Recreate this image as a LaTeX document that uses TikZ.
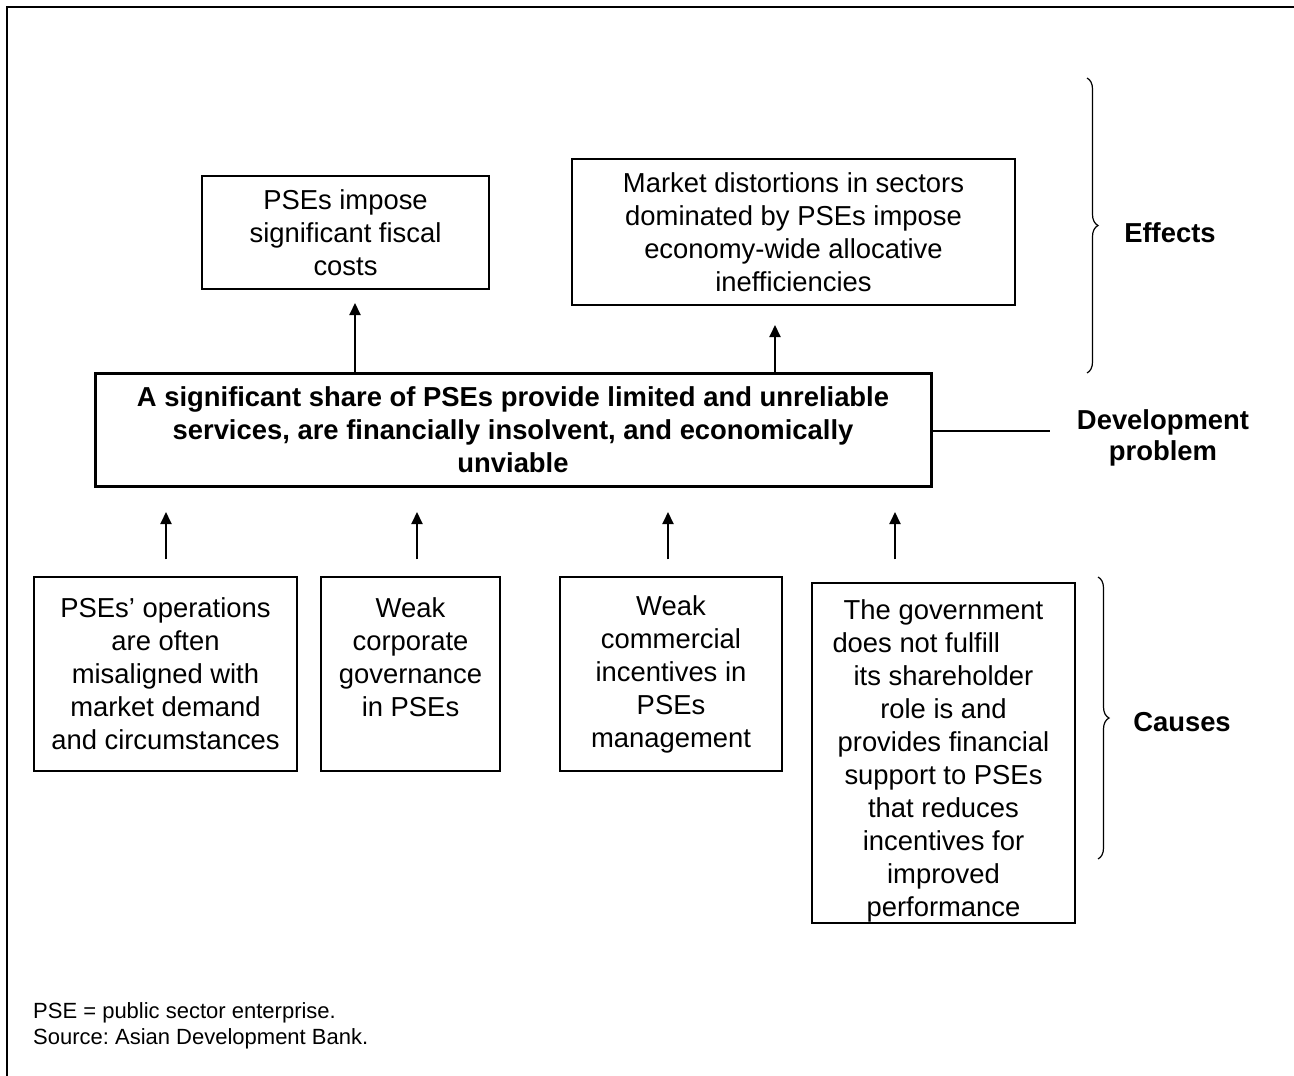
\documentclass[tikz,border=0pt]{standalone}
\usepackage{fontspec}
\setmainfont{Liberation Sans}
\frenchspacing
\usetikzlibrary{arrows.meta,decorations.pathreplacing}
\tikzset{txt/.style={font=\fontsize{27.4}{33}\selectfont},
pbox/.style={txt, draw, line width=1.3pt, align=center, inner sep=0pt},
mainbox/.style={pbox, line width=3pt, font=\fontsize{27.4}{33}\selectfont\bfseries},
uparrow/.style={line width=2pt, -{Triangle[length=12pt,width=11pt]}},
brc/.style={decorate, decoration={brace, amplitude=11pt}, line width=1.2pt},
tag/.style={font=\fontsize{27.4}{31}\selectfont\bfseries, align=center}}

\begin{document}
\begin{tikzpicture}[x=1pt,y=-1pt]
        \useasboundingbox (0,0) rectangle (1294,1076);
        \draw[line width=2.5pt] (7,1090) -- (7,7) -- (1310,7);
        % effects
        \node[pbox, minimum width=287, minimum height=113] (e1) at (345.5,232.5) {PSEs impose\\significant fiscal\\costs};
        \node[pbox, minimum width=443, minimum height=146] (e2) at (793.5,232) {Market distortions in sectors\\dominated by PSEs impose\\economy-wide allocative\\inefficiencies};
        % development problem
        \node[mainbox, minimum width=836, minimum height=113] (main) at (513,429.5) {A significant share of PSEs provide limited and unreliable\\services, are financially insolvent, and economically\\unviable};
        % causes
        \node[pbox, minimum width=263, minimum height=194] (c1) at (165.5,674) {PSEs' operations\\are often\\misaligned with\\market demand\\and circumstances};
        \node[pbox, minimum width=179, minimum height=194] (c2) at (410.5,674) {Weak\\corporate\\governance\\in PSEs\\\mbox{}};
        \node[pbox, minimum width=222, minimum height=194] (c3) at (671,674) {Weak\\commercial\\incentives in\\PSEs\\management};
        \node[pbox, minimum width=263, minimum height=340, text height=332pt] (c4) at (943.5,753) {The government\\\makebox[222pt][l]{does not fulfill}\\its shareholder\\role is and\\provides financial\\support to PSEs\\that reduces\\incentives for\\improved\\performance};

        \coordinate (t1) at (355,303);
        \coordinate (t2) at (775,325);
        \draw[uparrow] (t1 |- main.north) -- (t1);
        \draw[uparrow] (t2 |- main.north) -- (t2);

        \coordinate (b1) at (166,512);
        \coordinate (b2) at (417,512);
        \coordinate (b3) at (668,512);
        \coordinate (b4) at (895,512);
        \draw[uparrow, shorten <=17pt] (c1.north -| b1) -- (b1);
        \draw[uparrow, shorten <=17pt] (c2.north -| b2) -- (b2);
        \draw[uparrow, shorten <=17pt] (c3.north -| b3) -- (b3);
        \draw[uparrow, shorten <=23pt] (c4.north -| b4) -- (b4);

        % labels on the right
        \coordinate (effT) at (1087,78);
        \coordinate (effB) at (1087,373);
        \draw[brc] (effT) -- (effB);
        \node[tag] (effects) at (1170,233) {Effects};
        \coordinate (devend) at (1050,431);
        \draw[line width=1.3pt] (main.east |- devend) -- (devend);
        \node[tag] (dev) at (1163,437.5) {Development\\problem};
        \coordinate (cauT) at (1098,577);
        \coordinate (cauB) at (1098,859);
        \draw[brc] (cauT) -- (cauB);
        \node[tag] (causes) at (1182,722) {Causes};

        \node[anchor=north west, font=\fontsize{22}{26.5}\selectfont, align=left, inner sep=0pt] (note) at (33,1002) {PSE = public sector enterprise.\\Source: Asian Development Bank.};
\end{tikzpicture}
\end{document}
